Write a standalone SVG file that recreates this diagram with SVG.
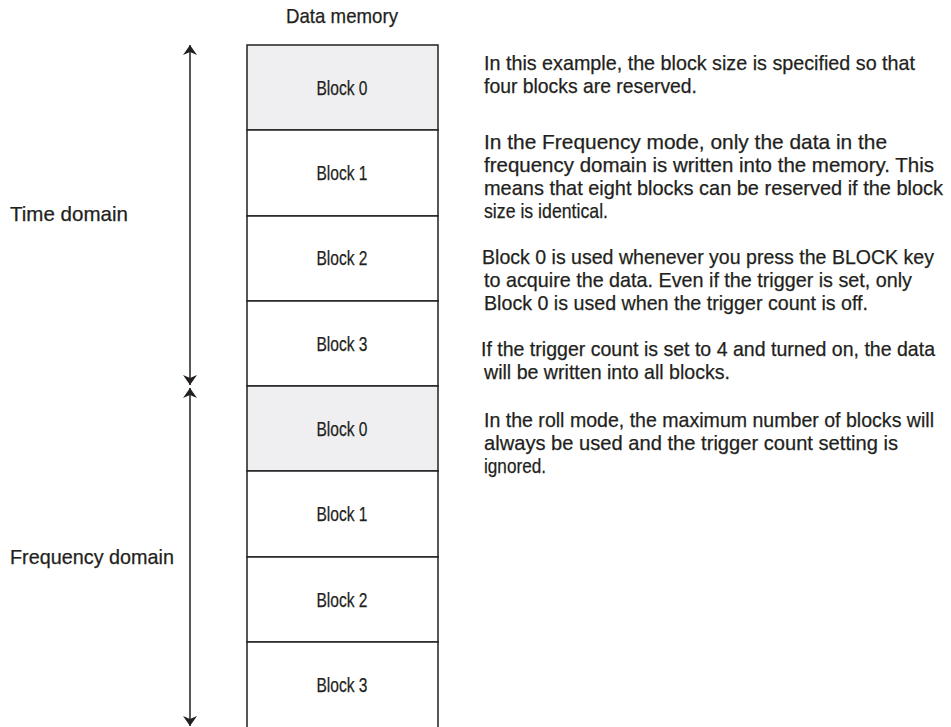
<svg xmlns="http://www.w3.org/2000/svg" width="951" height="727" viewBox="0 0 951 727">
<defs>
<style>
text{font-family:"Liberation Sans",Arial,sans-serif;font-size:21px;fill:#231f20;stroke:#231f20;stroke-width:0.25}
.blk{stroke:#231f20;stroke-width:1.5;fill:#fff}
.sh{fill:#efeff1}
.lbl{text-anchor:middle}
.ar{stroke:#231f20;stroke-width:1.5;fill:none}
</style>
<marker id="ah" viewBox="0 0 10 20" refX="10" refY="10" markerWidth="10" markerHeight="20" markerUnits="userSpaceOnUse" orient="auto">
<path d="M0,3 L10,10 L0,17 L3,10 Z" fill="#231f20"/>
</marker>
</defs>
<rect width="951" height="727" fill="#fff"/>
<text x="342" y="23" class="lbl" textLength="112" lengthAdjust="spacingAndGlyphs">Data memory</text>
<g id="t0"><rect class="blk sh" x="247" y="45" width="191" height="85"/><text x="342" y="95" class="lbl" textLength="51" lengthAdjust="spacingAndGlyphs">Block 0</text></g>
<g id="t1"><rect class="blk" x="247" y="130" width="191" height="86"/><text x="342" y="180" class="lbl" textLength="51" lengthAdjust="spacingAndGlyphs">Block 1</text></g>
<g id="t2"><rect class="blk" x="247" y="216" width="191" height="85"/><text x="342" y="265" class="lbl" textLength="51" lengthAdjust="spacingAndGlyphs">Block 2</text></g>
<g id="t3"><rect class="blk" x="247" y="301" width="191" height="85"/><text x="342" y="351" class="lbl" textLength="51" lengthAdjust="spacingAndGlyphs">Block 3</text></g>
<g id="f0"><rect class="blk sh" x="247" y="386" width="191" height="85"/><text x="342" y="436" class="lbl" textLength="51" lengthAdjust="spacingAndGlyphs">Block 0</text></g>
<g id="f1"><rect class="blk" x="247" y="471" width="191" height="86"/><text x="342" y="521" class="lbl" textLength="51" lengthAdjust="spacingAndGlyphs">Block 1</text></g>
<g id="f2"><rect class="blk" x="247" y="557" width="191" height="85"/><text x="342" y="607" class="lbl" textLength="51" lengthAdjust="spacingAndGlyphs">Block 2</text></g>
<g id="f3"><rect class="blk" x="247" y="642" width="191" height="86"/><text x="342" y="692" class="lbl" textLength="51" lengthAdjust="spacingAndGlyphs">Block 3</text></g>
<g id="connectors">
<line class="ar" x1="190" y1="215" x2="190" y2="45" marker-end="url(#ah)"/>
<line class="ar" x1="190" y1="215" x2="190" y2="385" marker-end="url(#ah)"/>
<line class="ar" x1="190" y1="557" x2="190" y2="388" marker-end="url(#ah)"/>
<line class="ar" x1="190" y1="557" x2="190" y2="726" marker-end="url(#ah)"/>
</g>
<text x="10" y="221" textLength="118" lengthAdjust="spacingAndGlyphs">Time domain</text>
<text x="10" y="564" textLength="164" lengthAdjust="spacingAndGlyphs">Frequency domain</text>
<g id="notes">
<text x="484" y="70" textLength="431" lengthAdjust="spacingAndGlyphs">In this example, the block size is specified so that</text>
<text x="484" y="93" textLength="213" lengthAdjust="spacingAndGlyphs">four blocks are reserved.</text>
<text x="484" y="149" textLength="403" lengthAdjust="spacingAndGlyphs">In the Frequency mode, only the data in the</text>
<text x="484" y="172" textLength="450" lengthAdjust="spacingAndGlyphs">frequency domain is written into the memory. This</text>
<text x="484" y="195" textLength="459" lengthAdjust="spacingAndGlyphs">means that eight blocks can be reserved if the block</text>
<text x="484" y="218" textLength="124" lengthAdjust="spacingAndGlyphs">size is identical.</text>
<text x="482" y="264" textLength="452" lengthAdjust="spacingAndGlyphs">Block 0 is used whenever you press the BLOCK key</text>
<text x="484" y="287" textLength="428" lengthAdjust="spacingAndGlyphs">to acquire the data. Even if the trigger is set, only</text>
<text x="484" y="310" textLength="384" lengthAdjust="spacingAndGlyphs">Block 0 is used when the trigger count is off.</text>
<text x="481" y="356" textLength="454" lengthAdjust="spacingAndGlyphs">If the trigger count is set to 4 and turned on, the data</text>
<text x="484" y="379" textLength="246" lengthAdjust="spacingAndGlyphs">will be written into all blocks.</text>
<text x="484" y="427" textLength="450" lengthAdjust="spacingAndGlyphs">In the roll mode, the maximum number of blocks will</text>
<text x="484" y="450" textLength="414" lengthAdjust="spacingAndGlyphs">always be used and the trigger count setting is</text>
<text x="484" y="473" textLength="62" lengthAdjust="spacingAndGlyphs">ignored.</text>
</g>
</svg>
